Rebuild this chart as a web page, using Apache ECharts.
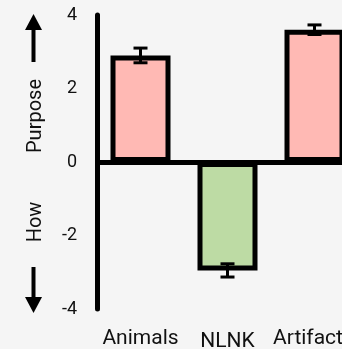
<!DOCTYPE html>
<html><head><meta charset="utf-8">
<script src="https://cdn.jsdelivr.net/npm/echarts@6/dist/echarts.min.js"></script>
<style>html,body{margin:0;padding:0;background:#f5f5f5;overflow:hidden;width:342px;height:349px}#c{width:380px;height:349px}</style>
</head><body><div id="c"></div>
<script>
const categories = ['Animals', 'NLNK', 'Artifact'];
const values = [2.9, -2.95, 3.6];
const errors = [0.2, 0.18, 0.13];
const yTicks = [-4, -2, 0, 2, 4];
const barColors = ['#ffb9b4', '#bddba4', '#ffb9b4'];
const labelPads = [[0, 0, 0, 0], [3, 0, 0, 0], [0, 13, 0, 0]];

const chart = echarts.init(document.getElementById('c'));
chart.setOption({
  backgroundColor: '#f5f5f5',
  animation: false,
  grid: { left: 97, top: 15, width: 261, height: 294, outerBoundsMode: 'none', containLabel: false },
  xAxis: {
    type: 'category',
    data: categories.map((c, i) => ({ value: c, textStyle: { padding: labelPads[i] } })),
    axisLine: { show: false }, axisTick: { show: false },
    axisLabel: { fontFamily: 'Roboto', fontSize: 21, color: '#111', margin: 19, interval: 0 }
  },
  yAxis: {
    type: 'value', min: yTicks[0], max: yTicks[yTicks.length - 1], interval: 2,
    axisLine: { show: true, lineStyle: { color: '#000', width: 5 } },
    axisTick: { show: false }, splitLine: { show: false },
    axisLabel: { fontFamily: 'Roboto', fontSize: 18, color: '#111', margin: 20 }
  },
  series: [
    {
      type: 'bar', barWidth: 60,
      data: values.map((v, i) => ({ value: v, itemStyle: { color: barColors[i] } })),
      itemStyle: { borderColor: '#000', borderWidth: 5 },
      markLine: {
        silent: true, symbol: 'none', label: { show: false },
        lineStyle: { color: '#000', width: 5, type: 'solid' },
        data: [{ yAxis: 0 }]
      },
      z: 2
    },
    {
      type: 'custom', z: 5,
      data: values.map((v, i) => [i, v - errors[i], v + errors[i]]),
      renderItem: function (params, api) {
        const lo = api.coord([api.value(0), api.value(1)]);
        const hi = api.coord([api.value(0), api.value(2)]);
        const w = 7;
        const st = { stroke: '#000', lineWidth: 3 };
        return { type: 'group', children: [
          { type: 'line', shape: { x1: lo[0], y1: lo[1], x2: hi[0], y2: hi[1] }, style: st },
          { type: 'line', shape: { x1: lo[0] - w, y1: lo[1], x2: lo[0] + w, y2: lo[1] }, style: st },
          { type: 'line', shape: { x1: hi[0] - w, y1: hi[1], x2: hi[0] + w, y2: hi[1] }, style: st }
        ]};
      }
    }
  ],
  graphic: [
    { type: 'rect', shape: { x: 31.5, y: 28, width: 4, height: 34 }, style: { fill: '#000' } },
    { type: 'polygon', shape: { points: [[25, 30], [42, 30], [33.5, 14]] }, style: { fill: '#000' } },
    { type: 'text', x: 36, y: 116, rotation: Math.PI / 2,
      style: { text: 'Purpose', fontFamily: 'Roboto', fontSize: 20, fill: '#111', align: 'center', verticalAlign: 'middle' } },
    { type: 'text', x: 36, y: 222, rotation: Math.PI / 2,
      style: { text: 'How', fontFamily: 'Roboto', fontSize: 20, fill: '#111', align: 'center', verticalAlign: 'middle' } },
    { type: 'rect', shape: { x: 31.5, y: 267, width: 4, height: 32 }, style: { fill: '#000' } },
    { type: 'polygon', shape: { points: [[25, 297], [42, 297], [33.5, 313]] }, style: { fill: '#000' } }
  ]
});
</script></body></html>
